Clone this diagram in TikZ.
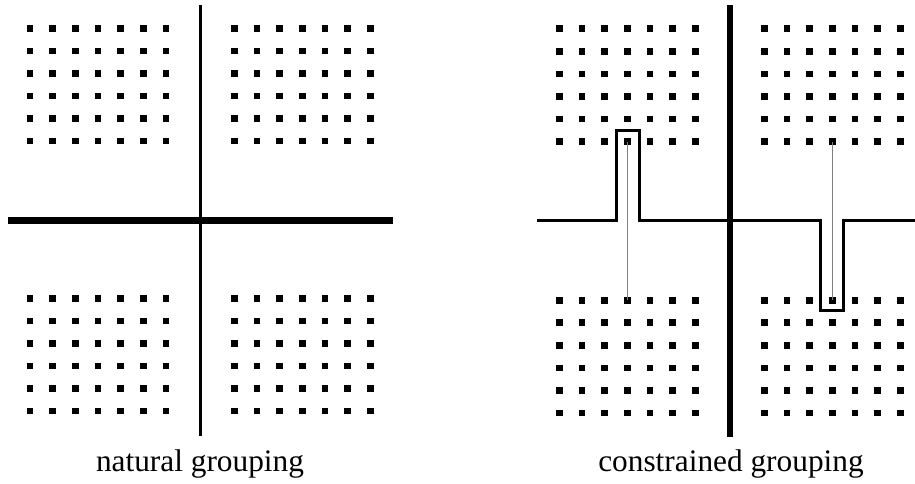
\documentclass[tikz,border=0pt]{standalone}
\usepackage{fontspec}
\setmainfont{Liberation Serif}
\tikzset{
  dot/.style={rectangle, fill=black, inner sep=0pt, minimum size=5pt},
  cut/.style={line width=2.2pt},
  bigcut/.style={line width=5.2pt},
  link/.style={gray, line width=1pt},
  caption/.style={anchor=base, font=\fontsize{23.5}{28}\selectfont},
}
\begin{document}
\begin{tikzpicture}[x=0.75pt,y=-0.75pt]
  \useasboundingbox (0,0) rectangle (915,483);

  % Draw the dot blocks (four per panel)
  \foreach \name/\bx/\by in {A/30/28.3, B/234.3/28.3, C/30/298.3, D/234.3/298.3,
                             E/559.3/28.8, F/764.3/28.8, G/559.3/300.2, H/764.3/300.2}
    \foreach \i in {1,...,7}
      \foreach \j in {1,...,6}
        \node[dot] (\name-\i-\j) at ({\bx+22.65*(\i-1)}, {\by+22.55*(\j-1)}) {};

  % Natural grouping: two straight cuts
  \draw[cut] (200.3,5) -- (200.3,436);
  \draw[bigcut] (8,220.7) -- (393,220.7);

  % Constrained grouping: cut with two bumps
  \draw[cut] (537,220.7) -- (616.7,220.7) -- (616.7,130.7) -- (639.3,130.7)
    -- (639.3,220.7) -- (820.7,220.7) -- (820.7,310.7) -- (843.3,310.7)
    -- (843.3,220.7) -- (915,220.7);
  \draw[bigcut] (730,5) -- (730,436.5);

  % Links between constrained dots
  \draw[link] (E-4-6.center) -- (G-4-1.center);
  \draw[link] (F-4-6.center) -- (H-4-1.center);

  % Captions
  \node[caption] (natural) at (200,471) {natural grouping};
  \node[caption] (constrained) at (731,471) {constrained grouping};
\end{tikzpicture}
\end{document}
